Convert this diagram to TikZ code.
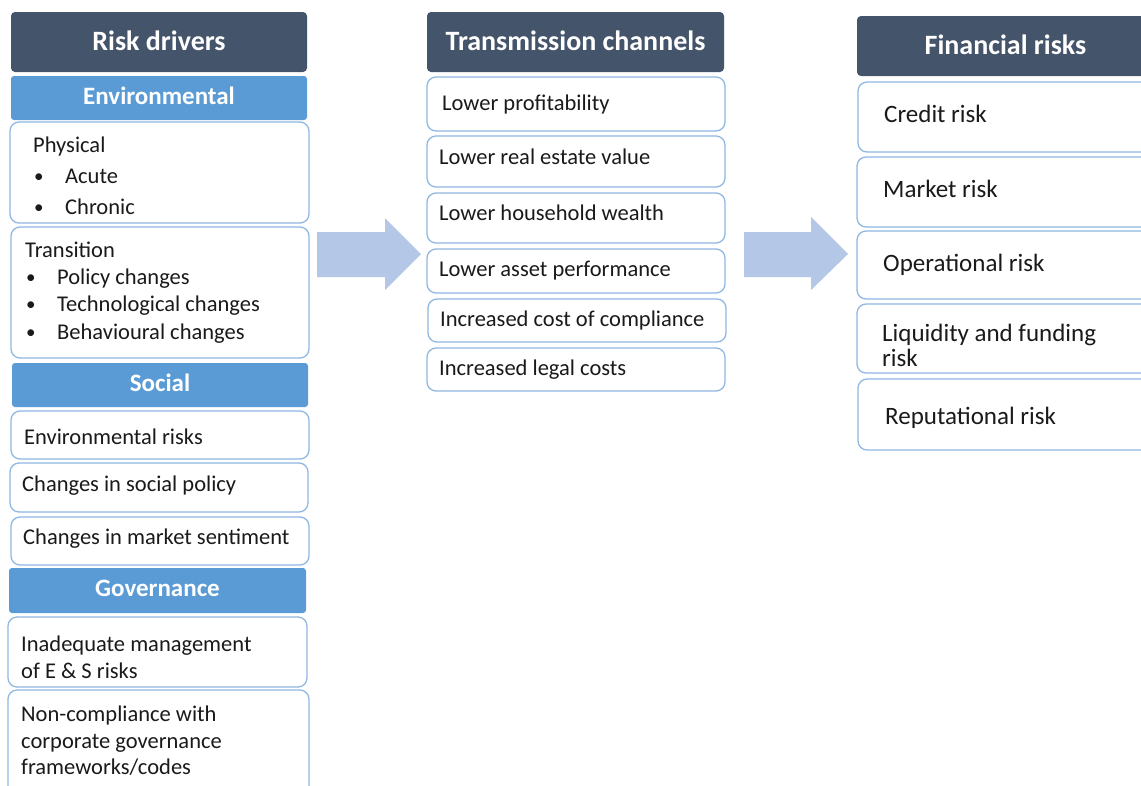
\documentclass[tikz,border=0pt]{standalone}
\usepackage{fontspec}
\setmainfont{Carlito}
\definecolor{hdr}{HTML}{44546A}
\definecolor{cat}{HTML}{5B9BD5}
\definecolor{edge}{HTML}{8FB8E3}
\definecolor{arr}{HTML}{B4C7E7}
\definecolor{txt}{HTML}{1A1A1A}
\tikzset{
  hdrbox/.style={fill=hdr, rounded corners=4pt, anchor=north west, inner sep=0pt, outer sep=0pt,
    text=white, font=\fontsize{28}{30}\selectfont\bfseries, text height=16pt, text depth=0pt},
  catbox/.style={fill=cat, rounded corners=3pt, anchor=north west, inner sep=0pt, outer sep=0pt,
    text=white, font=\fontsize{25}{28}\selectfont\bfseries, text height=12pt, text depth=0pt},
  wbox/.style={draw=edge, line width=1.3pt, fill=white, rounded corners=9pt, anchor=north west,
    inner sep=0pt, outer sep=0pt},
  lbl/.style={anchor=base west, inner sep=0pt, font=\fontsize{22.5}{27}\selectfont, text=txt},
  bul/.style={lbl, font=\fontsize{19}{27}\selectfont},
  rlbl/.style={lbl, font=\fontsize{25}{30}\selectfont},
  blockarrow/.style={fill=arr, draw=none},
}
\begin{document}
\begin{tikzpicture}[x=1pt, y=-1pt]
\useasboundingbox (0,0) rectangle (1141,785);
\clip (0,0) rectangle (1141,785);
\fill[white] (0,0) rectangle (1141,785);

% ---------- Left column ----------
\node[hdrbox, minimum width=296pt, minimum height=60pt] (rd) at (11,12) {Risk drivers};
\node[catbox, minimum width=296pt, minimum height=44pt] (env) at (11,76) {Environmental};
\node[wbox, minimum width=299pt, minimum height=101pt] (phys) at (10,122) {};
\node[lbl] (physT) at (33,152) {Physical};
\node[bul] (physB1) at (34,182) {•};
\node[lbl] (physA) at (65,183) {Acute};
\node[bul] (physB2) at (34,213) {•};
\node[lbl] (physC) at (65,214) {Chronic};

\node[wbox, minimum width=298pt, minimum height=131pt] (trans) at (11,227) {};
\node[lbl] (transT) at (25,257) {Transition};
\node[bul] (transB1) at (26,283) {•};
\node[lbl] (transP) at (57,284) {Policy changes};
\node[bul] (transB2) at (26,310) {•};
\node[lbl] (transTe) at (57,311) {Technological changes};
\node[bul] (transB3) at (26,338) {•};
\node[lbl] (transBe) at (57,339) {Behavioural changes};

\node[catbox, minimum width=296pt, minimum height=44pt] (soc) at (12,363) {Social};
\node[wbox, minimum width=298pt, minimum height=48pt] (s1) at (11,411) {};
\node[lbl] (s1t) at (24,444) {Environmental risks};
\node[wbox, minimum width=298pt, minimum height=49pt] (s2) at (10,463) {};
\node[lbl] (s2t) at (22,491) {Changes in social policy};
\node[wbox, minimum width=298pt, minimum height=48pt] (s3) at (11,517) {};
\node[lbl] (s3t) at (23,544) {Changes in market sentiment};

\node[catbox, minimum width=297pt, minimum height=45pt] (gov) at (9,568) {Governance};
\node[wbox, minimum width=299pt, minimum height=70pt] (g1) at (8,617) {};
\node[lbl] (g1a) at (21,651) {Inadequate management};
\node[lbl] (g1b) at (21,678) {of E \& S risks};
\node[wbox, minimum width=301pt, minimum height=110pt] (g2) at (8,690) {};
\node[lbl] (g2a) at (21,721) {Non-compliance with};
\node[lbl] (g2b) at (21,748) {corporate governance};
\node[lbl] (g2c) at (21,774) {frameworks/codes};

% ---------- Middle column ----------
\node[hdrbox, minimum width=297pt, minimum height=60pt] (tc) at (427,12) {Transmission channels};
\node[wbox, minimum width=298pt, minimum height=54pt] (m1) at (427,77) {};
\node[lbl] (m1t) at (442,110) {Lower profitability};
\node[wbox, minimum width=298pt, minimum height=51pt] (m2) at (427,136) {};
\node[lbl] (m2t) at (439,164) {Lower real estate value};
\node[wbox, minimum width=298pt, minimum height=50pt] (m3) at (427,193) {};
\node[lbl] (m3t) at (439,220) {Lower household wealth};
\node[wbox, minimum width=298pt, minimum height=44pt] (m4) at (427,249) {};
\node[lbl] (m4t) at (439,276) {Lower asset performance};
\node[wbox, minimum width=298pt, minimum height=43pt] (m5) at (428,299) {};
\node[lbl] (m5t) at (440,326) {Increased cost of compliance};
\node[wbox, minimum width=298pt, minimum height=43pt] (m6) at (427,348) {};
\node[lbl] (m6t) at (439,375) {Increased legal costs};

% ---------- Right column ----------
\node[hdrbox, minimum width=297pt, minimum height=60pt] (fr) at (857,16) {Financial risks};
\node[wbox, minimum width=297pt, minimum height=70pt] (r1) at (858,82) {};
\node[rlbl] (r1t) at (884,122) {Credit risk};
\node[wbox, minimum width=297pt, minimum height=70pt] (r2) at (857,157) {};
\node[rlbl] (r2t) at (883,197) {Market risk};
\node[wbox, minimum width=297pt, minimum height=68pt] (r3) at (857,231) {};
\node[rlbl] (r3t) at (883,271) {Operational risk};
\node[wbox, minimum width=297pt, minimum height=69pt] (r4) at (857,304) {};
\node[rlbl] (r4a) at (882,341) {Liquidity and funding};
\node[rlbl] (r4b) at (882,366) {risk};
\node[wbox, minimum width=297pt, minimum height=71pt] (r5) at (858,379) {};
\node[rlbl] (r5t) at (885,424) {Reputational risk};

% ---------- Block arrows ----------
\fill[blockarrow] (317,232) -- (385,232) -- (385,218) -- (421,254) -- (385,290) -- (385,277) -- (317,277) -- cycle;
\fill[blockarrow] (744,232) -- (811,232) -- (811,217) -- (848,254) -- (811,290) -- (811,277) -- (744,277) -- cycle;
\end{tikzpicture}
\end{document}
